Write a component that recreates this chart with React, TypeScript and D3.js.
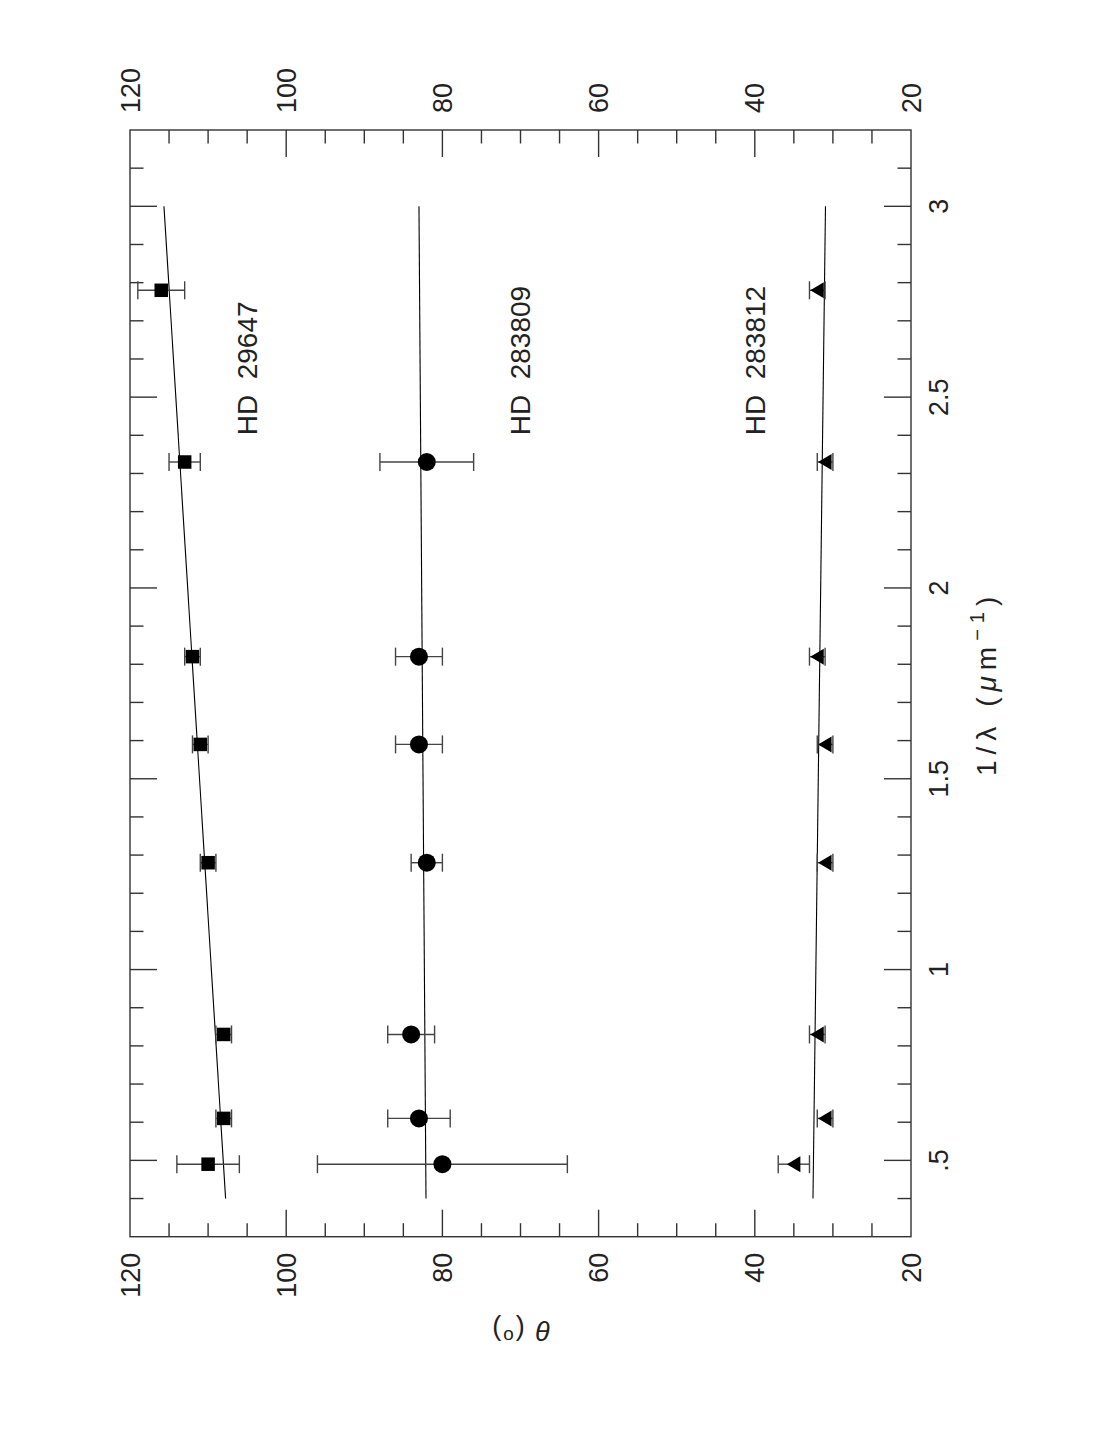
import React, { useEffect, useRef } from "react";
import * as d3 from "d3";

// 1/lambda (um^-1) of the observed bands
const invWave = [0.49, 0.61, 0.83, 1.28, 1.59, 1.82, 2.33, 2.78];

// position angle theta (deg) and its error per star
const hd29647 = [110, 108, 108, 110, 111, 112, 113, 116];
const hd29647Err = [4, 1, 1, 1, 1, 1, 2, 3];
const hd283809 = [80, 83, 84, 82, 83, 83, 82];
const hd283809Err = [16, 4, 3, 2, 3, 3, 6];
const hd283812 = [35, 31, 32, 31, 31, 32, 31, 32];
const hd283812Err = [2, 1, 1, 1, 1, 1, 1, 1];

// straight line fits, evaluated at the ends
const fitX = [0.4, 3.0];
const fit29647 = [107.76, 115.65];
const fit283809 = [82.1, 83.0];
const fit283812 = [32.55, 30.95];

const xTickValues = [0.5, 1, 1.5, 2, 2.5, 3];
const xTickLabels = [".5", "1", "1.5", "2", "2.5", "3"];
const yTickValues = [20, 40, 60, 80, 100, 120];

const starNames = ["HD 29647", "HD 283809", "HD 283812"];

function App() {
    const svgRef = useRef<SVGSVGElement>(null);

    // page is 1107 x 1433, the plot is drawn landscape then turned -90deg
    const pageW = 1107;
    const pageH = 1433;

    useEffect(() => {
        document.body.style.margin = "0";

        const svg = d3.select(svgRef.current);
        svg.selectAll("*").remove();

        const font = "'Liberation Sans', Arial, Helvetica, sans-serif";
        const left = 196.3, right = 1303, top = 130, bottom = 911;

        const xScale = d3.scaleLinear().domain([0.3, 3.2]).range([left, right]);
        const yScale = d3.scaleLinear().domain([20, 120]).range([bottom, top]);

        const g = svg.append("g")
            .attr("transform", `translate(0,${pageH}) rotate(-90)`);

        // frame
        g.append("rect")
            .attr("x", left).attr("y", top)
            .attr("width", right - left).attr("height", bottom - top)
            .attr("fill", "none")
            .attr("stroke", "#333")
            .attr("stroke-width", 1.4);

        // x ticks, every 0.1, long ones every 0.5
        const xTicks = d3.range(4, 32).map(i => i / 10);
        xTicks.forEach(v => {
            const major = Math.abs(v * 2 - Math.round(v * 2)) < 1e-6;
            const len = major ? 27 : 13.5;
            const x = xScale(v);
            g.append("line").attr("x1", x).attr("x2", x).attr("y1", bottom).attr("y2", bottom - len)
                .attr("stroke", "#333").attr("stroke-width", 1.4);
            g.append("line").attr("x1", x).attr("x2", x).attr("y1", top).attr("y2", top + len)
                .attr("stroke", "#333").attr("stroke-width", 1.4);
        });

        // theta ticks, every 5, long ones every 20
        const yTicks = d3.range(25, 120, 5);
        yTicks.forEach(v => {
            const len = v % 20 === 0 ? 27 : 13.5;
            const y = yScale(v);
            g.append("line").attr("x1", left).attr("x2", left + len).attr("y1", y).attr("y2", y)
                .attr("stroke", "#333").attr("stroke-width", 1.4);
            g.append("line").attr("x1", right).attr("x2", right - len).attr("y1", y).attr("y2", y)
                .attr("stroke", "#333").attr("stroke-width", 1.4);
        });

        // tick labels
        xTickValues.forEach((v, i) => {
            g.append("text")
                .attr("x", xScale(v)).attr("y", 948)
                .attr("text-anchor", "middle")
                .attr("font-family", font).attr("font-size", 27).attr("fill", "#222")
                .text(xTickLabels[i]);
        });
        yTickValues.forEach(v => {
            g.append("text")
                .attr("x", left - 16).attr("y", yScale(v) + 9.5)
                .attr("text-anchor", "end")
                .attr("font-family", font).attr("font-size", 27).attr("fill", "#222")
                .text(v);
            g.append("text")
                .attr("x", right + 17).attr("y", yScale(v) + 9.5)
                .attr("text-anchor", "start")
                .attr("font-family", font).attr("font-size", 27).attr("fill", "#222")
                .text(v);
        });

        // axis titles
        const xTitle = g.append("text")
            .attr("x", (left + right) / 2).attr("y", 996)
            .attr("text-anchor", "middle")
            .attr("xml:space", "preserve")
            .attr("letter-spacing", 6)
            .attr("font-family", font).attr("font-size", 28).attr("fill", "#222");
        xTitle.append("tspan").text("1/λ (");
        xTitle.append("tspan").attr("font-style", "italic").text("μ");
        xTitle.append("tspan").text("m");
        xTitle.append("tspan").attr("dy", -12).attr("font-size", 20).text("−1");
        xTitle.append("tspan").attr("dy", 12).text(")");

        const yTitle = g.append("text")
            .attr("transform", `translate(112,${(top + bottom) / 2}) rotate(-90)`)
            .attr("text-anchor", "middle")
            .attr("xml:space", "preserve")
            .attr("letter-spacing", 2)
            .attr("font-family", font).attr("font-size", 27).attr("fill", "#222");
        yTitle.append("tspan").attr("font-style", "italic").text("θ");
        yTitle.append("tspan").text(" (");
        yTitle.append("tspan").attr("dy", -9).attr("font-size", 19).text("o");
        yTitle.append("tspan").attr("dy", 9).text(")");

        const line = d3.line<number>()
            .x((d, i) => xScale(fitX[i]))
            .y(d => yScale(d));

        const series = [
            { values: hd29647, errs: hd29647Err, fit: fit29647, symbol: "square" },
            { values: hd283809, errs: hd283809Err, fit: fit283809, symbol: "circle" },
            { values: hd283812, errs: hd283812Err, fit: fit283812, symbol: "triangle" },
        ];

        series.forEach(s => {
            g.append("path")
                .attr("d", line(s.fit))
                .attr("fill", "none")
                .attr("stroke", "#000")
                .attr("stroke-width", 1.1);

            s.values.forEach((v, i) => {
                const x = xScale(invWave[i]);
                const y0 = yScale(v - s.errs[i]);
                const y1 = yScale(v + s.errs[i]);
                const eb = g.append("g").attr("stroke", "#444").attr("stroke-width", 1.4);
                eb.append("line").attr("x1", x).attr("x2", x).attr("y1", y0).attr("y2", y1);
                eb.append("line").attr("x1", x - 9).attr("x2", x + 9).attr("y1", y0).attr("y2", y0);
                eb.append("line").attr("x1", x - 9).attr("x2", x + 9).attr("y1", y1).attr("y2", y1);

                const y = yScale(v);
                if (s.symbol === "square") {
                    g.append("rect")
                        .attr("x", x - 6.75).attr("y", y - 6.75)
                        .attr("width", 13.5).attr("height", 13.5)
                        .attr("fill", "#000");
                } else if (s.symbol === "circle") {
                    g.append("circle")
                        .attr("cx", x).attr("cy", y).attr("r", 9)
                        .attr("fill", "#000");
                } else {
                    g.append("path")
                        .attr("d", `M${x},${y - 7} L${x + 8},${y + 6.5} L${x - 8},${y + 6.5} Z`)
                        .attr("fill", "#000");
                }
            });
        });

        // star names
        const labelTheta = [103.8, 68.8, 38.7];
        starNames.forEach((name, i) => {
            g.append("text")
                .attr("x", xScale(2.4)).attr("y", yScale(labelTheta[i]))
                .attr("font-family", font).attr("font-size", 28).attr("fill", "#222")
                .attr("xml:space", "preserve")
                .text(name.replace(" ", "  "));
        });
    }, []);

    return <svg ref={svgRef} width={pageW} height={pageH} style={{ display: "block", background: "#fff" }}></svg>;
}

export default App;
